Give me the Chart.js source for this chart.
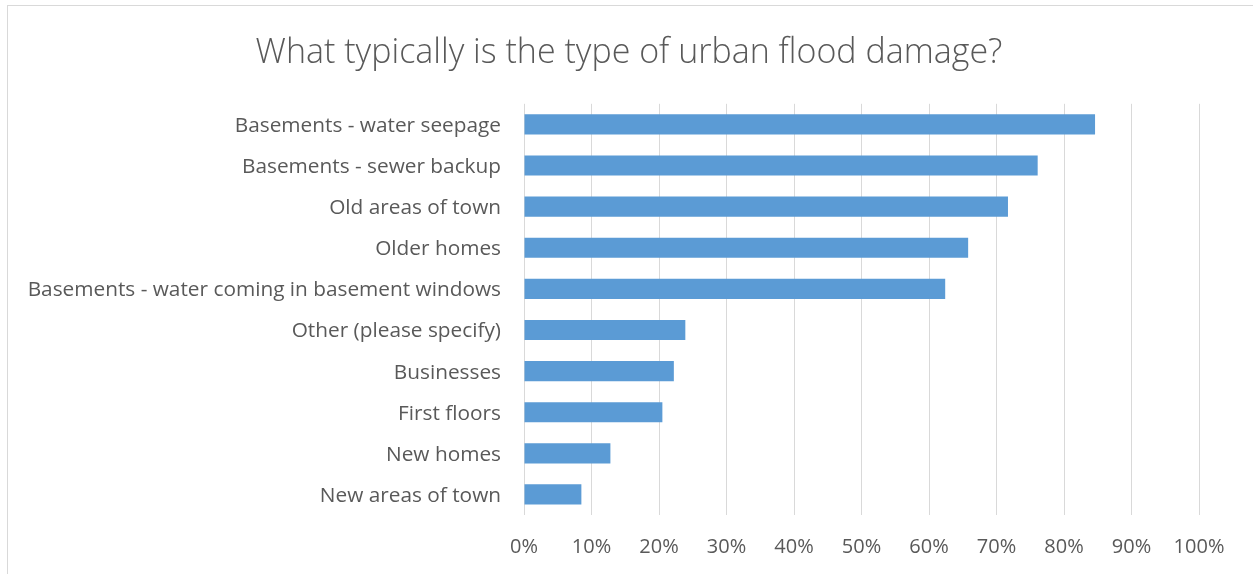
<!DOCTYPE html>
<html>
<head>
<meta charset="utf-8">
<script src="https://cdn.jsdelivr.net/npm/chart.js@4"></script>
<style>
  html, body { margin: 0; padding: 0; background: #ffffff; }
  #wrap { position: relative; width: 1253px; height: 574px; overflow: hidden; }
  #frame { position: absolute; left: 7px; top: 5px; width: 1250px; height: 600px; border: 1px solid #d9d9d9; box-sizing: border-box; pointer-events: none; }
  canvas { position: absolute; left: 0; top: 0; }
</style>
</head>
<body>
<div id="wrap">
  <canvas id="c" width="1253" height="574"></canvas>
  <div id="frame"></div>
</div>
<script>
const chartTitle = "What typically is the type of urban flood damage?";
const categories = [
  "Basements - water seepage",
  "Basements - sewer backup",
  "Old areas of town",
  "Older homes",
  "Basements - water coming in basement windows",
  "Other (please specify)",
  "Businesses",
  "First floors",
  "New homes",
  "New areas of town"
];
const percentValues = [84.6, 76.1, 71.7, 65.8, 62.4, 23.9, 22.2, 20.5, 12.8, 8.5];
const tickMin = 0;
const tickMax = 100;
const tickStep = 10;

const textColor = "#595959";
const barColor = "#5b9bd5";
const gridColor = "#d9d9d9";
const fontFamily = "'Open Sans', Lato, 'Liberation Sans', sans-serif";

new Chart(document.getElementById("c"), {
  type: "bar",
  data: {
    labels: categories,
    datasets: [{
      data: percentValues,
      backgroundColor: barColor,
      borderWidth: 0,
      categoryPercentage: 1.0,
      barPercentage: 0.49,
      yAxisID: "y"
    }]
  },
  options: {
    indexAxis: "y",
    responsive: false,
    animation: false,
    events: [],
    layout: { padding: { left: 5, right: 0, top: 0, bottom: 0 } },
    plugins: {
      legend: { display: false },
      tooltip: { enabled: false },
      title: {
        display: true,
        text: chartTitle,
        color: textColor,
        font: { family: fontFamily, size: 34, weight: "300" },
        padding: { top: 33, bottom: 30 }
      }
    },
    scales: {
      x: {
        min: tickMin,
        max: tickMax,
        ticks: {
          stepSize: tickStep,
          color: textColor,
          font: { family: fontFamily, size: 20 },
          padding: 20,
          callback: v => v + "%"
        },
        grid: { color: gridColor, lineWidth: 1, drawTicks: false },
        border: { display: false },
        afterFit: s => { s.height = 59; }
      },
      y: {
        ticks: {
          color: textColor,
          font: { family: fontFamily, size: 20.8 },
          padding: 23,
          labelOffset: 1.5
        },
        grid: { display: false, drawTicks: false },
        border: { display: false },
        afterFit: s => { s.width = 519; }
      },
      yRight: {
        type: "category",
        position: "right",
        display: true,
        ticks: { display: false },
        grid: { display: false, drawTicks: false },
        border: { display: false },
        afterFit: s => { s.width = 54; }
      }
    }
  }
});
</script>
</body>
</html>
